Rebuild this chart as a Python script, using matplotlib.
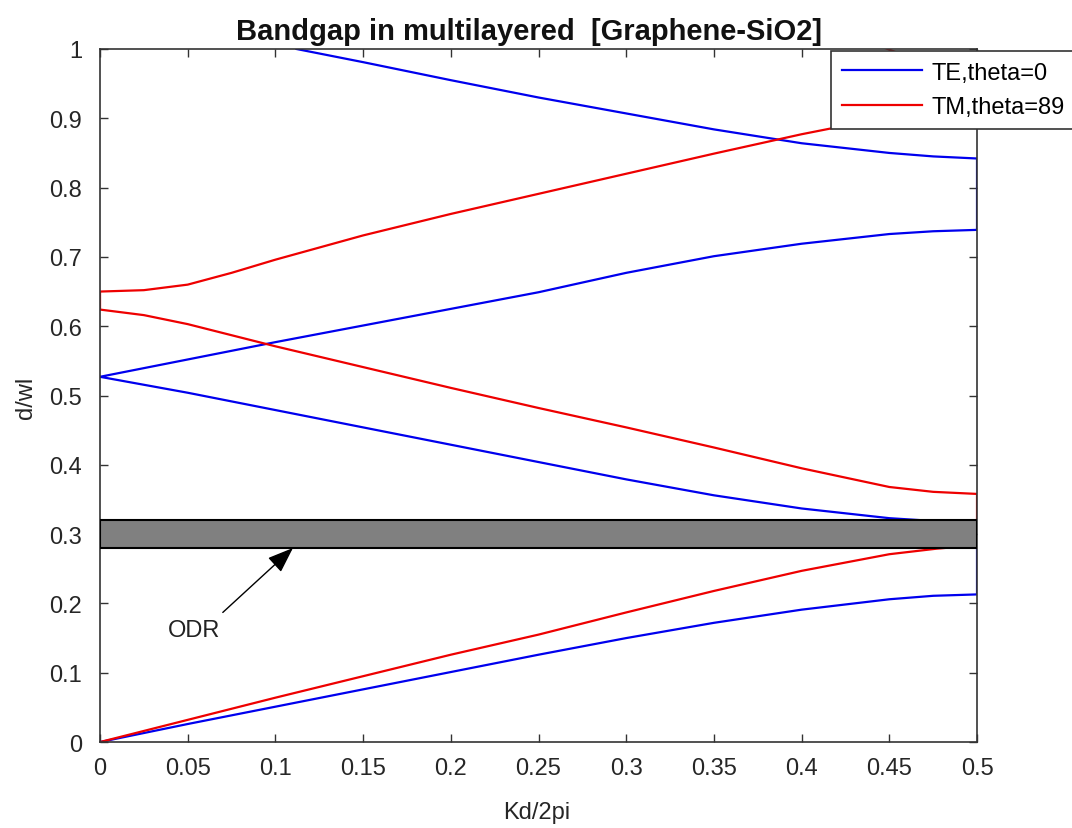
"""Band diagram of a graphene/SiO2 multilayer with the omnidirectional gap marked."""

import matplotlib

matplotlib.use("Agg")
import matplotlib.pyplot as plt
import numpy as np
from matplotlib.patches import Rectangle
from matplotlib.ticker import FormatStrFormatter, MultipleLocator

plt.rcParams["font.family"] = ["Liberation Sans", "DejaVu Sans"]

# TE, theta=0 -- bands (Kd/2pi, d/wl)
te_band1_x = [0.0, 0.05, 0.10, 0.15, 0.20, 0.25, 0.30, 0.35, 0.40, 0.45, 0.475, 0.50]
te_band1_y = [0.0, 0.026, 0.051, 0.076, 0.101, 0.126, 0.150, 0.172, 0.191, 0.206, 0.211, 0.213]
te_band2_x = [0.50, 0.475, 0.45, 0.40, 0.35, 0.30, 0.25, 0.20, 0.15, 0.10, 0.05, 0.0]
te_band2_y = [0.318, 0.319, 0.323, 0.337, 0.356, 0.379, 0.404, 0.429, 0.454, 0.479, 0.504, 0.527]
te_band3_x = [0.0, 0.05, 0.10, 0.15, 0.20, 0.25, 0.30, 0.35, 0.40, 0.45, 0.475, 0.50]
te_band3_y = [0.527, 0.552, 0.577, 0.601, 0.625, 0.649, 0.677, 0.701, 0.719, 0.733, 0.737, 0.739]
te_band4_x = [0.50, 0.475, 0.45, 0.40, 0.35, 0.30, 0.25, 0.20, 0.15, 0.112]
te_band4_y = [0.842, 0.845, 0.850, 0.864, 0.884, 0.907, 0.930, 0.955, 0.981, 1.0]

# TM, theta=89
tm_band1_x = [0.0, 0.05, 0.10, 0.15, 0.20, 0.25, 0.30, 0.35, 0.40, 0.45, 0.477, 0.50]
tm_band1_y = [0.0, 0.032, 0.064, 0.095, 0.126, 0.155, 0.187, 0.218, 0.247, 0.271, 0.279, 0.284]
tm_band2_x = [0.50, 0.475, 0.45, 0.40, 0.35, 0.30, 0.25, 0.20, 0.15, 0.10, 0.05, 0.025, 0.0]
tm_band2_y = [0.358, 0.361, 0.368, 0.395, 0.425, 0.454, 0.482, 0.511, 0.541, 0.571, 0.603, 0.616, 0.624]
tm_band3_x = [0.0, 0.025, 0.05, 0.075, 0.10, 0.15, 0.20, 0.25, 0.30, 0.35, 0.40, 0.45, 0.475, 0.50]
tm_band3_y = [0.650, 0.652, 0.660, 0.677, 0.696, 0.731, 0.762, 0.791, 0.820, 0.849, 0.877, 0.902, 0.911, 0.915]
tm_band4_x = [0.50, 0.449, 0.42]
tm_band4_y = [0.950, 1.0, 1.03]

# omnidirectional reflection range
odr_low = 0.28
odr_high = 0.32

FONT = 17
AXIS_COLOR = "#333333"


def _join(*bands):
    xs = np.concatenate([np.asarray(b[0], dtype=float) for b in bands])
    ys = np.concatenate([np.asarray(b[1], dtype=float) for b in bands])
    return xs, ys


def main():
    fig = plt.figure(figsize=(10.72, 8.29), dpi=100)
    ax = fig.add_axes([0.0933, 0.1037, 0.8181, 0.8360])

    te_x, te_y = _join(
        (te_band1_x, te_band1_y),
        (te_band2_x, te_band2_y),
        (te_band3_x, te_band3_y),
        (te_band4_x, te_band4_y),
    )
    tm_x, tm_y = _join(
        (tm_band1_x, tm_band1_y),
        (tm_band2_x, tm_band2_y),
        (tm_band3_x, tm_band3_y),
        (tm_band4_x, tm_band4_y),
    )
    ax.plot(te_x, te_y, color="#0000ee", linewidth=1.6, label="TE,theta=0")
    ax.plot(tm_x, tm_y, color="#ee0000", linewidth=1.6, label="TM,theta=89")

    ax.add_patch(
        Rectangle(
            (0.0, odr_low),
            0.5,
            odr_high - odr_low,
            facecolor="#808080",
            edgecolor="black",
            linewidth=1.5,
            zorder=4,
        )
    )

    ax.annotate(
        "",
        xy=(0.110, 0.280),
        xytext=(0.070, 0.187),
        arrowprops=dict(
            arrowstyle="-|>,head_length=0.8,head_width=0.3",
            color="black",
            lw=1.0,
            mutation_scale=20,
            shrinkA=0,
            shrinkB=0,
        ),
        zorder=5,
    )
    ax.text(0.0535, 0.162, "ODR", fontsize=FONT, ha="center", va="center", color="#222222")

    ax.set_xlim(0, 0.5)
    ax.set_ylim(0, 1)
    ax.xaxis.set_major_locator(MultipleLocator(0.05))
    ax.yaxis.set_major_locator(MultipleLocator(0.1))
    ax.xaxis.set_major_formatter(FormatStrFormatter("%g"))
    ax.yaxis.set_major_formatter(FormatStrFormatter("%g"))
    ax.tick_params(
        direction="in",
        length=6,
        width=1.0,
        color=AXIS_COLOR,
        labelsize=FONT,
        labelcolor="#262626",
        top=True,
        right=True,
    )
    ax.tick_params(axis="x", pad=11)
    ax.tick_params(axis="y", pad=13)
    for spine in ax.spines.values():
        spine.set_color(AXIS_COLOR)
        spine.set_linewidth(1.2)

    ax.set_xlabel("Kd/2pi", fontsize=FONT, color="#262626")
    ax.set_ylabel("d/wl", fontsize=FONT, color="#262626")
    ax.xaxis.set_label_coords(0.498, -0.085)
    ax.yaxis.set_label_coords(-0.072, 0.498)
    ax.set_title(
        "Bandgap in multilayered  [Graphene-SiO2]",
        fontsize=21,
        fontweight="bold",
        color="#111111",
        pad=7,
        x=0.489,
    )

    leg = ax.legend(
        loc="upper left",
        bbox_to_anchor=(831 / 1072, (829 - 52) / 829),
        bbox_transform=fig.transFigure,
        fontsize=FONT,
        frameon=True,
        fancybox=False,
        borderpad=0.45,
        labelspacing=0.52,
        handlelength=3.4,
        handletextpad=0.4,
        borderaxespad=0,
    )
    leg.get_frame().set_edgecolor(AXIS_COLOR)
    leg.get_frame().set_linewidth(1.2)
    leg.get_frame().set_alpha(1.0)
    leg.set_zorder(10)

    fig.savefig("out.png", dpi=100)


if __name__ == "__main__":
    main()
